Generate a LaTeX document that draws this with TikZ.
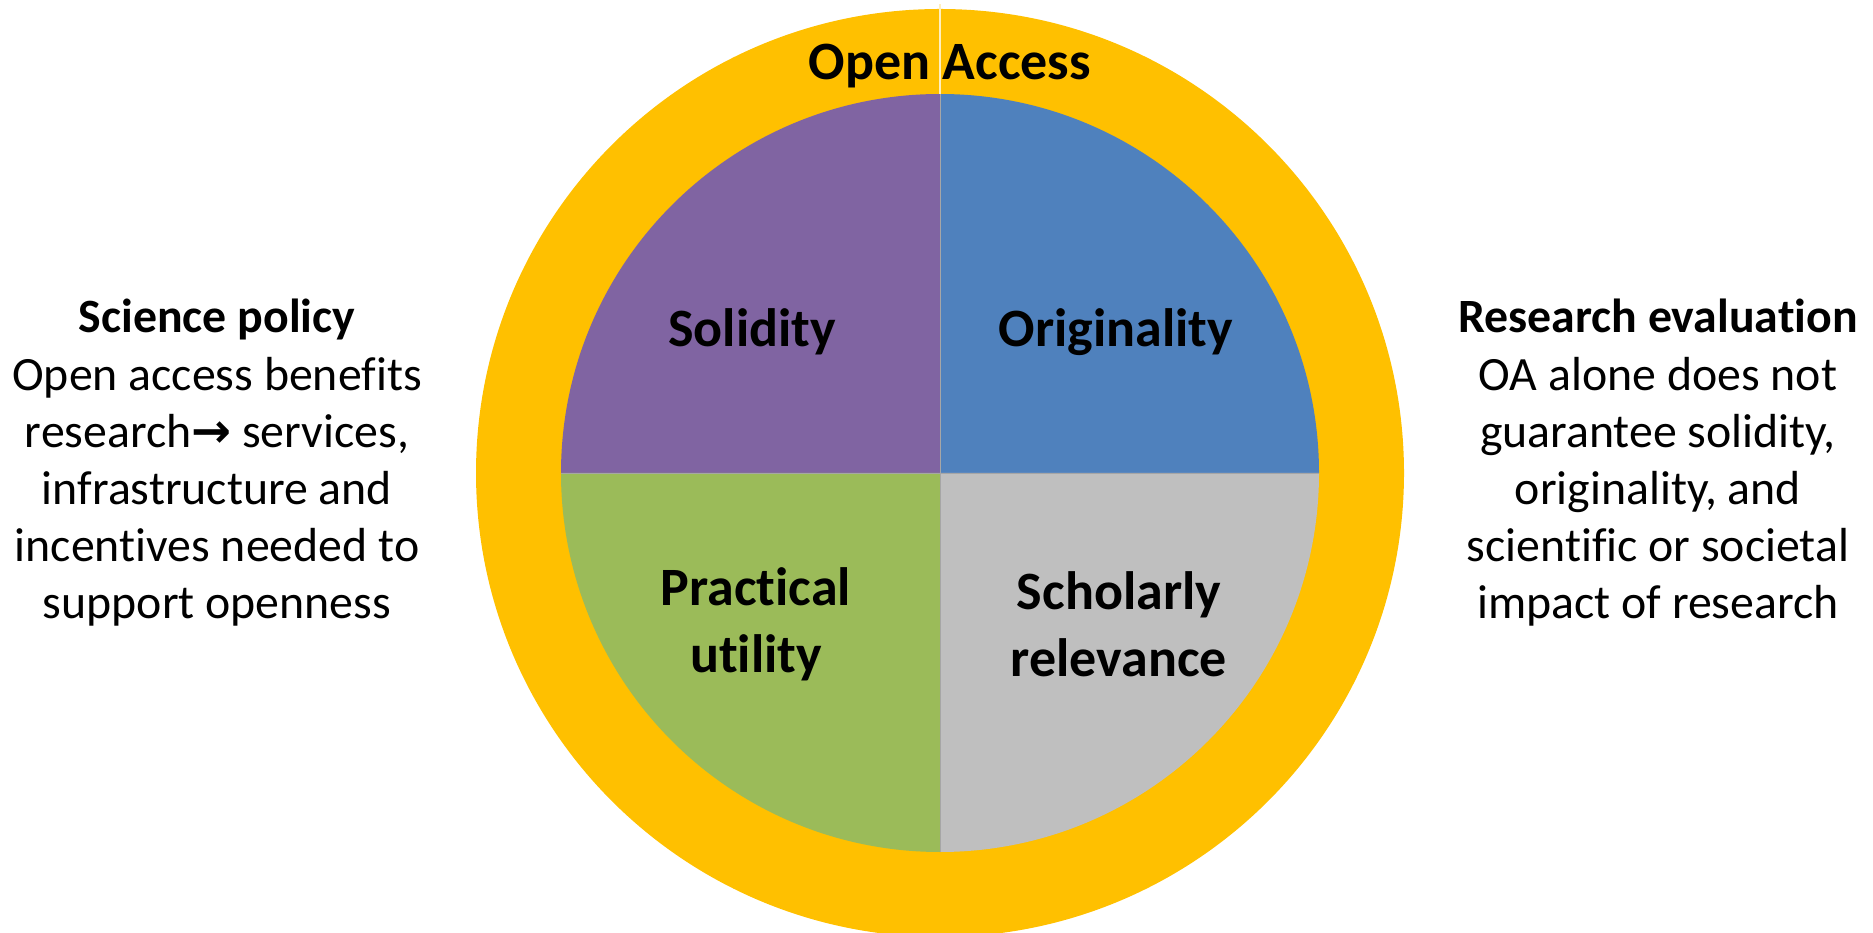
\documentclass[tikz,border=0pt]{standalone}
\usepackage{fontspec}
\setmainfont[Ligatures=NoCommon]{Carlito}
\newfontfamily\arrowfont{DejaVu Sans}
\usepackage{xcolor}
\usepackage{tikz}
\usetikzlibrary{positioning}
\definecolor{oagold}{HTML}{FFC000}
\definecolor{solidpurple}{HTML}{8064A2}
\definecolor{origblue}{HTML}{4F81BD}
\definecolor{practgreen}{HTML}{9BBB59}
\definecolor{scholgray}{HTML}{BFBFBF}
\tikzstyle{quadlabel} = [align=center, font=\fontsize{54}{67}\selectfont\bfseries, inner sep=0pt]
\tikzstyle{sidetext} = [align=center, font=\fontsize{47.8}{57.2}\selectfont, inner sep=0pt]

\begin{document}
\begin{tikzpicture}[x=1pt, y=1pt]
\useasboundingbox (0,0) rectangle (1873,932);
\clip (0,0) rectangle (1873,932);
\coordinate (centre) at (940,459);
\fill[oagold] (centre) circle (464);
\fill[solidpurple] (centre) -- ++(90:379) arc (90:180:379) -- cycle;
\fill[origblue] (centre) -- ++(0:379) arc (0:90:379) -- cycle;
\fill[practgreen] (centre) -- ++(180:379) arc (180:270:379) -- cycle;
\fill[scholgray] (centre) -- ++(270:379) arc (270:360:379) -- cycle;
\draw[white!75!oagold, line width=1.2pt] (centre) ++(0,379) -- ++(0,90);
\draw[gray!70, line width=0.8pt] (centre) ++(0,379) -- ++(0,-758);
\draw[gray!70, line width=0.8pt] (centre) ++(-379,0) -- ++(758,0);

\node[quadlabel] (openaccess) at (950,866) {Open Access};
\node[quadlabel] (solidity) at (752,600) {Solidity};
\node[quadlabel] (originality) at (1116,600) {Originality};
\node[quadlabel] (practical) at (756,308) {Practical\\utility};
\node[quadlabel] (scholarly) at (1119,308) {Scholarly\\relevance};

\node[sidetext] (policy) at (217,469) {\textbf{Science policy}\\Open access benefits\\research{\arrowfont\bfseries →} services,\\infrastructure and\\incentives needed to\\support openness};
\node[sidetext] (evaluation) at (1658,469) {\textbf{Research evaluation}\\OA alone does not\\guarantee solidity,\\originality, and\\scientific or societal\\impact of research};
\end{tikzpicture}
\end{document}
